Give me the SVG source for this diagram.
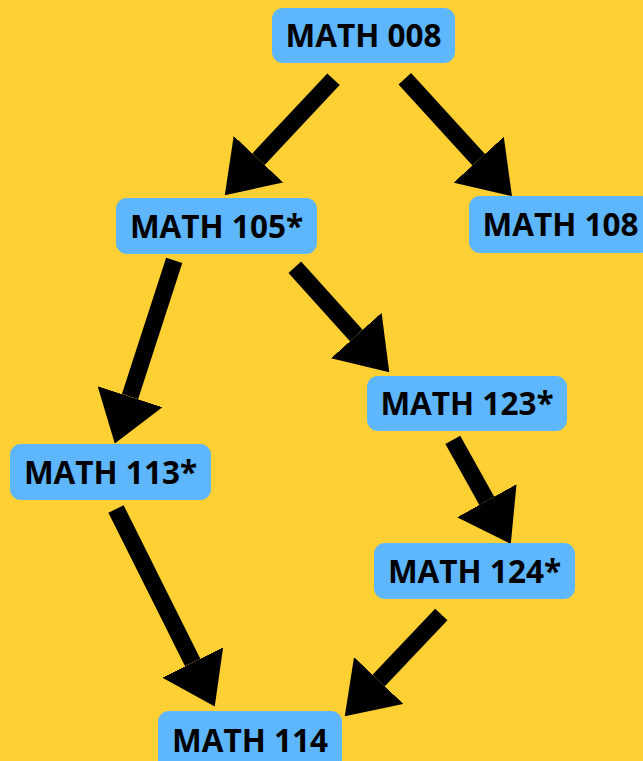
<svg xmlns="http://www.w3.org/2000/svg" width="643" height="761" viewBox="0 0 643 761">
<defs>
<style>
.box{fill:#5EB6FC;}
.lbl{font-family:"Open Sans","DejaVu Sans",sans-serif;font-weight:700;font-size:31.5px;fill:#000;text-anchor:middle;}
.edge{stroke:#000;stroke-width:17;fill:none;marker-end:url(#head);}
</style>
<marker id="head" viewBox="0 0 10 10" refX="0" refY="5" markerWidth="2.9" markerHeight="4" markerUnits="strokeWidth" orient="auto" preserveAspectRatio="none">
<path d="M0,0 L10,5 L0,10 Z" fill="#000"/>
</marker>
</defs>
<rect x="0" y="0" width="643" height="761" fill="#FED033"/>
<g id="connectors">
<line class="edge" x1="333.5" y1="79.2" x2="258.5" y2="159.2"/>
<line class="edge" x1="404.8" y1="78.8" x2="478.7" y2="159.7"/>
<line class="edge" x1="174.2" y1="260.3" x2="130" y2="396.7"/>
<line class="edge" x1="294.8" y1="267.2" x2="356.3" y2="335.5"/>
<line class="edge" x1="452.8" y1="439.8" x2="486.8" y2="500.8"/>
<line class="edge" x1="116" y1="509" x2="192.7" y2="662.5"/>
<line class="edge" x1="441.3" y1="614.5" x2="378.7" y2="680.5"/>
</g>
<g id="n008"><rect class="box" x="272" y="8" width="183" height="55" rx="11"/><text class="lbl" x="363.5" y="47">MATH 008</text></g>
<g id="n105"><rect class="box" x="116" y="198" width="201" height="56" rx="11"/><text class="lbl" x="216.5" y="237.5">MATH 105*</text></g>
<g id="n108"><rect class="box" x="469" y="196" width="183" height="57" rx="11"/><text class="lbl" x="560.5" y="236">MATH 108</text></g>
<g id="n113"><rect class="box" x="10" y="444" width="201" height="56" rx="11"/><text class="lbl" x="110.5" y="483.5">MATH 113*</text></g>
<g id="n123"><rect class="box" x="367" y="376" width="200" height="55" rx="11"/><text class="lbl" x="467" y="415">MATH 123*</text></g>
<g id="n124"><rect class="box" x="374" y="543" width="201" height="56" rx="11"/><text class="lbl" x="474.5" y="582.5">MATH 124*</text></g>
<g id="n114"><rect class="box" x="158" y="711" width="184" height="60" rx="11"/><text class="lbl" x="250" y="751.5">MATH 114</text></g>
</svg>
